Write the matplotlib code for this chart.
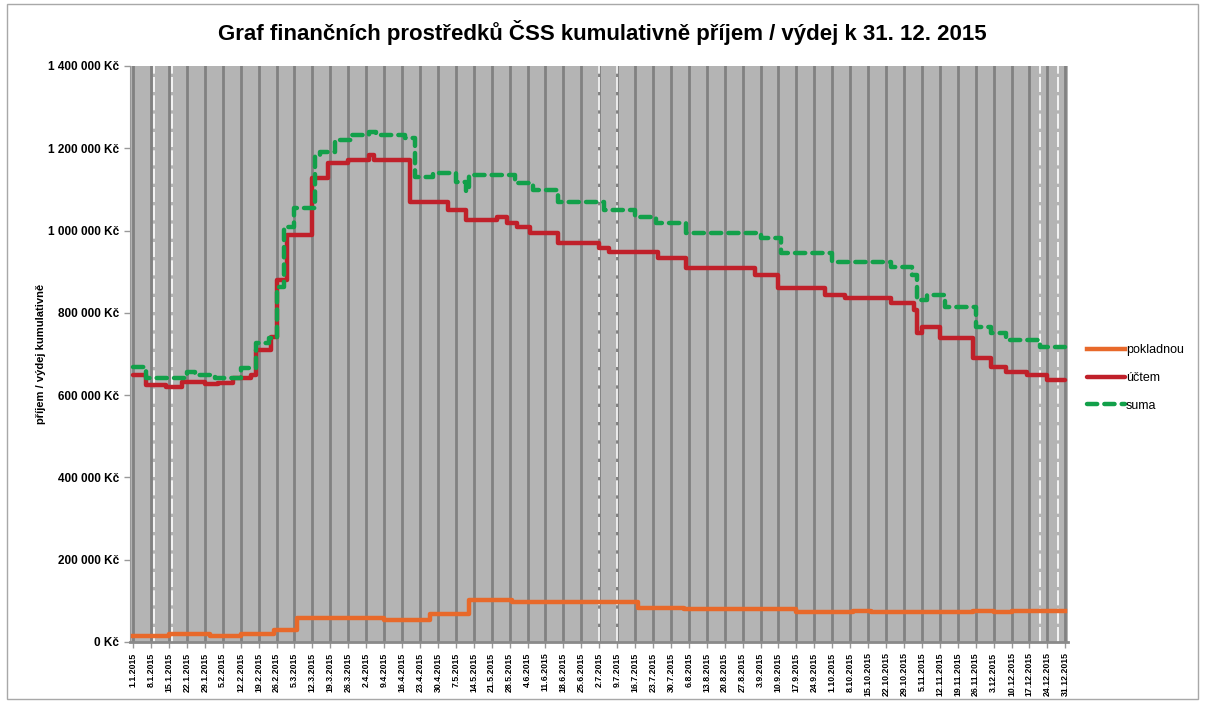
import numpy as np
import pandas as pd
import matplotlib
matplotlib.use("Agg")
import matplotlib.pyplot as plt
from matplotlib.patches import Rectangle

plt.rcParams['font.family'] = ['Liberation Sans', 'DejaVu Sans']

# step data (date of change -> value in Kc)
pokladna_dates = ["1.1.", "15.1.", "31.1.", "12.2.", "25.2.", "6.3.", "9.4.", "27.4.", "12.5.",
                  "29.5.", "2.7.", "17.7.", "4.8.", "13.9.", "17.9.", "9.10.", "16.10.",
                  "25.11.", "3.12.", "10.12.", "31.12."]
pokladna_vals = [14000, 18600, 14000, 18600, 29000, 57500, 53500, 67000, 102000,
                 98000, 97000, 83000, 80000, 79000, 74000, 75000, 72000,
                 75000, 72000, 75000, 75000]

ucet_dates = ["1.1.", "6.1.", "14.1.", "20.1.", "29.1.", "3.2.", "9.2.", "16.2.", "18.2.",
              "24.2.", "26.2.", "2.3.", "12.3.", "18.3.", "26.3.", "3.4.", "5.4.", "19.4.",
              "4.5.", "11.5.", "23.5.", "27.5.", "31.5.", "5.6.", "16.6.", "2.7.", "6.7.",
              "25.7.", "5.8.", "1.9.", "10.9.", "28.9.", "6.10.", "24.10.", "2.11.", "3.11.",
              "5.11.", "12.11.", "25.11.", "2.12.", "8.12.", "16.12.", "24.12.", "31.12."]
ucet_vals = [649000, 625000, 620000, 632000, 626000, 630000, 642000, 649000, 710000,
             741000, 880000, 989000, 1128000, 1164000, 1171000, 1184000, 1171000, 1069000,
             1050000, 1026000, 1034000, 1018000, 1009000, 993000, 969000, 957000, 949000,
             933000, 908000, 892000, 860000, 843000, 835000, 823000, 807000, 751000,
             766000, 738000, 690000, 669000, 657000, 649000, 637000, 637000]

suma_dates = ["1.1.", "6.1.", "22.1.", "25.1.", "2.2.", "12.2.", "18.2.", "23.2.", "26.2.",
              "1.3.", "5.3.", "13.3.", "15.3.", "21.3.", "27.3.", "3.4.", "6.4.", "17.4.",
              "21.4.", "28.4.", "7.5.", "11.5.", "12.5.", "30.5.", "6.6.", "16.6.", "4.7.",
              "16.7.", "24.7.", "5.8.", "3.9.", "11.9.", "1.10.", "24.10.", "1.11.", "3.11.",
              "7.11.", "14.11.", "26.11.", "2.12.", "8.12.", "21.12.", "31.12."]
suma_vals = [669000, 642000, 657000, 650000, 642000, 666000, 727000, 740000, 862000,
             1009000, 1055000, 1184000, 1192000, 1220000, 1232000, 1240000, 1232000, 1225000,
             1131000, 1139000, 1119000, 1095000, 1135000, 1115000, 1099000, 1070000, 1050000,
             1034000, 1018000, 993000, 981000, 945000, 924000, 912000, 892000, 831000,
             843000, 815000, 766000, 750000, 734000, 718000, 718000]

holiday_dates = ["9.1.", "16.1.", "2.7.", "9.7.", "21.12.", "28.12."]


def to_dates(lst):
    return pd.to_datetime([s + "2015" for s in lst], format="%d.%m.%Y")


fig = plt.figure(figsize=(12.05, 7.02), dpi=100)
ax = fig.add_axes([0.108, 0.0855, 0.778, 0.8205])
ax.set_facecolor("#b4b4b4")

weeks = pd.date_range("2015-01-01", "2015-12-31", freq="7D")
for w in weeks:
    ax.axvline(w, color="#818181", lw=2.0, zorder=1)
for h in to_dates(holiday_dates):
    ax.axvline(h, color="white", lw=1.2, ls=(0, (9, 2)), zorder=1.5)

ax.plot(to_dates(pokladna_dates), pokladna_vals, drawstyle="steps-post",
        color="#e8692a", lw=3.2, label="pokladnou", zorder=3)
ax.plot(to_dates(ucet_dates), ucet_vals, drawstyle="steps-post",
        color="#c0202a", lw=3.2, label="účtem", zorder=4, solid_capstyle="round")
ax.plot(to_dates(suma_dates), suma_vals, drawstyle="steps-post",
        color="#12a04a", lw=3.2, ls=(0, (2.3, 1.6)), dash_capstyle="round",
        label="suma", zorder=5)

ax.set_xlim(pd.Timestamp("2014-12-30 20:00"), pd.Timestamp("2015-12-31 22:00"))
ax.set_ylim(0, 1400000)
ax.set_yticks(np.arange(0, 1400001, 200000))
ax.set_yticklabels(["{:,} Kč".format(v).replace(",", " ") for v in range(0, 1400001, 200000)],
                   fontsize=8.5, fontweight="bold")
ax.set_xticks(weeks)
ax.set_xticklabels(["{}.{}.{}".format(d.day, d.month, d.year) for d in weeks],
                   rotation=90, fontsize=6.3, fontweight="bold")
ax.tick_params(axis="both", direction="out", length=4, color="#999999", width=1)
ax.tick_params(axis="y", pad=4)

for s in ["top", "right"]:
    ax.spines[s].set_visible(False)
ax.spines["left"].set_color("#999999")
ax.spines["bottom"].set_color("#8a8a8a")
ax.spines["bottom"].set_linewidth(2)

ax.set_ylabel("příjem / výdej kumulativně", fontsize=8, fontweight="bold")
ax.yaxis.set_label_coords(-0.09, 0.5)

fig.text(0.5, 0.953, "Graf finančních prostředků ČSS kumulativně příjem / výdej k 31. 12. 2015",
         ha="center", va="center", fontsize=16, fontweight="bold")

leg = fig.legend(loc="center left", bbox_to_anchor=(0.893, 0.4615), frameon=False,
                 fontsize=9, handlelength=3.0, handletextpad=0.1, labelspacing=1.25)

fig.patches.append(Rectangle((0.006, 0.004), 0.988, 0.99, transform=fig.transFigure,
                             fill=False, edgecolor="#a8a8a8", lw=1))

fig.savefig("out.png", dpi=100)
